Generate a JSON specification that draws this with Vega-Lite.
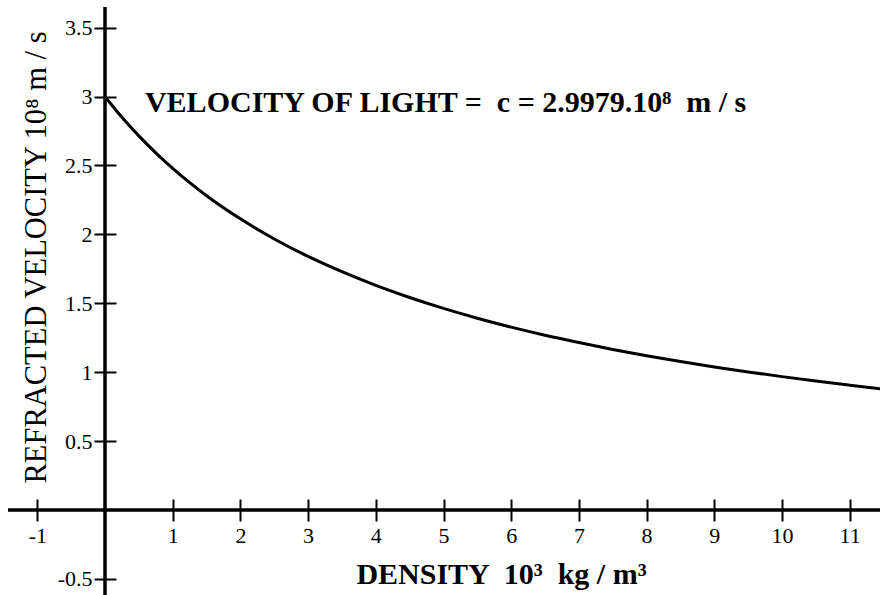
{
  "$schema": "https://vega.github.io/schema/vega-lite/v6.json",
  "width": 880,
  "height": 595,
  "autosize": {"type": "none"},
  "padding": 0,
  "background": "white",
  "config": {"view": {"stroke": null}},
  "encoding": {
    "x": {
      "field": "x",
      "type": "quantitative",
      "scale": {"domain": [-1.551, 11.4476], "nice": false, "zero": false},
      "axis": {
        "values": [-1, 1, 2, 3, 4, 5, 6, 7, 8, 9, 10, 11],
        "labelExpr": "'' + datum.value",
        "offset": -96,
        "domain": false,
        "grid": false,
        "tickSize": 22,
        "tickWidth": 2,
        "tickColor": "black",
        "labelFont": "Liberation Serif",
        "labelFontSize": 22,
        "labelColor": "black",
        "labelPadding": 4,
        "labelFlush": false,
        "labelOverlap": false,
        "title": "DENSITY \u00a010³ \u00a0kg / m³",
        "titleFont": "Liberation Serif",
        "titleFontSize": 30,
        "titleFontWeight": "bold",
        "titleColor": "black",
        "titleX": 501,
        "titleY": 84,
        "titleAlign": "center",
        "titleBaseline": "alphabetic"
      }
    },
    "y": {
      "field": "y",
      "type": "quantitative",
      "scale": {"domain": [-0.6168, 3.701], "nice": false, "zero": false},
      "axis": {
        "values": [-0.5, 0.5, 1, 1.5, 2, 2.5, 3, 3.5],
        "labelExpr": "'' + datum.value",
        "offset": -116,
        "domain": false,
        "grid": false,
        "tickSize": 22,
        "tickWidth": 2,
        "tickColor": "black",
        "labelFont": "Liberation Serif",
        "labelFontSize": 22,
        "labelColor": "black",
        "labelPadding": 2,
        "labelFlush": false,
        "labelOverlap": false,
        "title": "REFRACTED VELOCITY 10⁸ m / s",
        "titleFont": "Liberation Serif",
        "titleFontSize": 30.5,
        "titleFontWeight": "normal",
        "titleColor": "black",
        "titleAngle": 270,
        "titleX": -71,
        "titleY": 257,
        "titleAlign": "center",
        "titleBaseline": "alphabetic"
      }
    }
  },
  "layer": [
    {
      "data": {"values": [{"x": -1.433, "x2": 11.4476, "y": 0}]},
      "mark": {"type": "rule", "color": "black", "strokeWidth": 3.5},
      "encoding": {"x2": {"field": "x2"}}
    },
    {
      "data": {"values": [{"x": 0, "y": -0.6168, "y2": 3.65}]},
      "mark": {"type": "rule", "color": "black", "strokeWidth": 3.5},
      "encoding": {"y2": {"field": "y2"}}
    },
    {
      "data": {
        "values": [
          {"x": 0, "y": 3.0},
          {"x": 0.25, "y": 2.85},
          {"x": 0.5, "y": 2.715},
          {"x": 0.75, "y": 2.592},
          {"x": 1, "y": 2.479},
          {"x": 1.5, "y": 2.281},
          {"x": 2, "y": 2.113},
          {"x": 2.5, "y": 1.967},
          {"x": 3, "y": 1.84},
          {"x": 3.5, "y": 1.729},
          {"x": 4, "y": 1.63},
          {"x": 4.5, "y": 1.542},
          {"x": 5, "y": 1.463},
          {"x": 5.5, "y": 1.392},
          {"x": 6, "y": 1.327},
          {"x": 6.5, "y": 1.268},
          {"x": 7, "y": 1.215},
          {"x": 7.5, "y": 1.165},
          {"x": 8, "y": 1.119},
          {"x": 8.5, "y": 1.077},
          {"x": 9, "y": 1.038},
          {"x": 9.5, "y": 1.002},
          {"x": 10, "y": 0.968},
          {"x": 10.5, "y": 0.936},
          {"x": 11, "y": 0.906},
          {"x": 11.45, "y": 0.88}
        ]
      },
      "mark": {"type": "line", "color": "black", "strokeWidth": 3, "interpolate": "monotone"}
    },
    {
      "data": {"values": [{"x": 0.59, "y": 2.888, "label": "VELOCITY OF LIGHT = \u00a0c = 2.9979.10⁸ \u00a0m / s"}]},
      "mark": {
        "type": "text",
        "align": "left",
        "baseline": "alphabetic",
        "font": "Liberation Serif",
        "fontSize": 30,
        "fontWeight": "bold",
        "color": "black"
      },
      "encoding": {"text": {"field": "label"}}
    }
  ]
}
